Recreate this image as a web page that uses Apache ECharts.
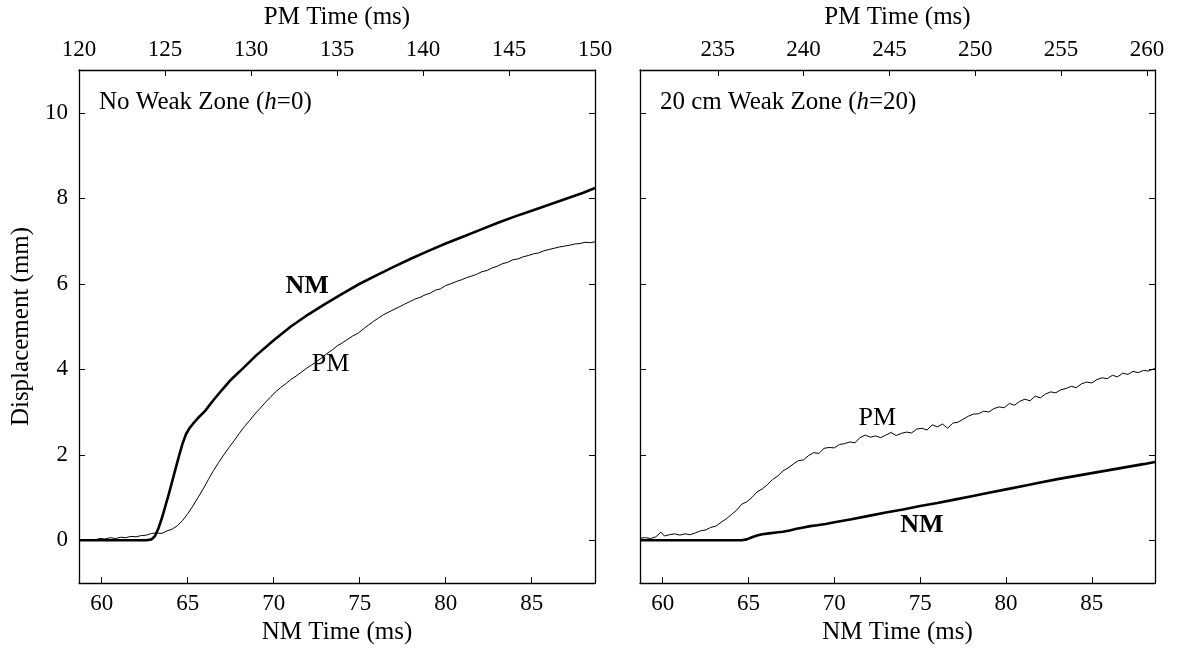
<!DOCTYPE html>
<html>
<head>
<meta charset="utf-8">
<script src="https://cdn.jsdelivr.net/npm/echarts@6/dist/echarts.min.js"></script>
<style>
  html, body { margin: 0; padding: 0; background: #fff; }
  #chart { width: 1177px; height: 651px; }
</style>
</head>
<body>
<div id="chart"></div>
<script>
// NM time window shown on both panels (ms)
const nmRange = [58.68, 88.68];
// PM time windows on the top axes (ms)
const pmRangeA = [120, 150];
const pmRangeB = [230.47, 260.47];
const nmTicks = [60, 65, 70, 75, 80, 85];
const pmTicksA = [120, 125, 130, 135, 140, 145, 150];
const pmTicksB = [235, 240, 245, 250, 255, 260];
const dispRange = [-1, 11];
const dispTicks = [0, 2, 4, 6, 8, 10];

// No weak zone (h = 0): [NM time (ms), displacement (mm)]
const nmNoWeak = [
  [58.68, 0], [60, 0], [61, 0], [62, 0], [62.6, 0], [62.9, 0.02], [63.1, 0.1], [63.3, 0.28],
  [63.5, 0.52], [63.7, 0.8], [63.9, 1.08], [64.1, 1.38], [64.3, 1.68], [64.5, 1.98], [64.7, 2.26],
  [64.9, 2.48], [65.1, 2.62], [65.3, 2.72], [65.6, 2.86], [66.0, 3.02], [66.5, 3.28], [67.0, 3.52],
  [67.5, 3.75], [68.0, 3.94], [69, 4.33], [70, 4.68], [71, 5.0], [72, 5.28], [73, 5.53], [74, 5.77],
  [75, 6.0], [76, 6.2], [77, 6.4], [78, 6.59], [79, 6.77], [80, 6.94], [81, 7.1], [82, 7.26],
  [83, 7.42], [84, 7.57], [85, 7.71], [86, 7.85], [87, 7.99], [88, 8.13], [88.68, 8.24]
];
const pmNoWeak = [
  [58.7, 0.02], [59.0, 0.0], [59.3, 0.02], [59.6, 0.01], [59.9, 0.04], [60.2, 0.03], [60.5, 0.06],
  [60.8, 0.04], [61.1, 0.07], [61.4, 0.06], [61.7, 0.09], [62.0, 0.08], [62.3, 0.11], [62.6, 0.12],
  [62.9, 0.16], [63.2, 0.17], [63.5, 0.16], [63.8, 0.22], [64.1, 0.26], [64.4, 0.34], [64.7, 0.46],
  [65.0, 0.62], [65.3, 0.8], [65.6, 1.0], [65.9, 1.2], [66.2, 1.42], [66.5, 1.63], [66.8, 1.82],
  [67.1, 2.0], [67.4, 2.17], [67.7, 2.33], [68.0, 2.5], [68.3, 2.66], [68.6, 2.8], [68.9, 2.95],
  [69.2, 3.08], [69.5, 3.22], [69.8, 3.34], [70.1, 3.47], [70.4, 3.57], [70.7, 3.66], [71.0, 3.76],
  [71.3, 3.84], [71.6, 3.93], [71.9, 4.02], [72.2, 4.1], [72.5, 4.18], [72.8, 4.27], [73.1, 4.37],
  [73.4, 4.45], [73.7, 4.55], [74.0, 4.62], [74.3, 4.7], [74.6, 4.78], [74.9, 4.84], [75.2, 4.94],
  [75.5, 5.03], [75.8, 5.12], [76.1, 5.2], [76.4, 5.28], [76.7, 5.34], [77.0, 5.4], [77.3, 5.46],
  [77.6, 5.52], [77.9, 5.58], [78.2, 5.64], [78.5, 5.68], [78.8, 5.74], [79.1, 5.78], [79.4, 5.85],
  [79.7, 5.88], [80.0, 5.96], [80.3, 6.0], [80.6, 6.05], [80.9, 6.09], [81.2, 6.14], [81.5, 6.18],
  [81.8, 6.22], [82.1, 6.28], [82.4, 6.31], [82.7, 6.37], [83.0, 6.41], [83.3, 6.47], [83.6, 6.5],
  [83.9, 6.56], [84.2, 6.58], [84.5, 6.63], [84.8, 6.66], [85.1, 6.7], [85.4, 6.72], [85.7, 6.77],
  [86.0, 6.8], [86.3, 6.83], [86.6, 6.86], [86.9, 6.88], [87.2, 6.9], [87.5, 6.93], [87.8, 6.94],
  [88.1, 6.97], [88.4, 6.96], [88.68, 6.98]
];

// 20 cm weak zone (h = 20)
const nmWeak = [
  [58.68, 0], [64.6, 0], [64.9, 0.02], [65.2, 0.07], [65.5, 0.11], [65.8, 0.14], [66.2, 0.16],
  [66.6, 0.18], [67.0, 0.2], [67.4, 0.23], [67.8, 0.27], [68.2, 0.3], [68.6, 0.33], [69.0, 0.35],
  [69.5, 0.38], [70.0, 0.42], [71, 0.49], [72, 0.57], [73, 0.65], [74, 0.72], [75, 0.8], [76, 0.87],
  [77, 0.95], [78, 1.03], [79, 1.11], [80, 1.19], [81, 1.27], [82, 1.35], [83, 1.43], [84, 1.5],
  [85, 1.57], [86, 1.64], [87, 1.71], [88, 1.78], [88.68, 1.83]
];
const pmWeak = [
  [58.7, 0.05], [59.0, 0.06], [59.3, 0.04], [59.6, 0.08], [59.9, 0.19], [60.1, 0.1], [60.4, 0.13],
  [60.7, 0.15], [61.0, 0.12], [61.3, 0.15], [61.6, 0.13], [61.9, 0.17], [62.2, 0.22], [62.5, 0.24],
  [62.8, 0.3], [63.1, 0.33], [63.4, 0.42], [63.7, 0.5], [64.0, 0.6], [64.3, 0.7], [64.6, 0.84],
  [64.9, 0.9], [65.2, 1.0], [65.5, 1.13], [65.8, 1.2], [66.1, 1.3], [66.4, 1.42], [66.7, 1.5],
  [67.0, 1.62], [67.3, 1.69], [67.6, 1.78], [67.9, 1.86], [68.2, 1.88], [68.5, 1.98], [68.8, 2.05],
  [69.1, 2.03], [69.4, 2.15], [69.7, 2.17], [70.0, 2.16], [70.3, 2.24], [70.6, 2.26], [70.9, 2.3],
  [71.2, 2.28], [71.5, 2.4], [71.8, 2.46], [72.1, 2.41], [72.4, 2.44], [72.7, 2.4], [73.0, 2.46],
  [73.3, 2.52], [73.6, 2.45], [73.9, 2.5], [74.2, 2.53], [74.5, 2.51], [74.8, 2.6], [75.1, 2.62],
  [75.4, 2.58], [75.7, 2.7], [76.0, 2.65], [76.3, 2.72], [76.6, 2.62], [76.9, 2.74], [77.2, 2.76],
  [77.5, 2.83], [77.8, 2.9], [78.1, 2.95], [78.4, 2.96], [78.7, 3.02], [79.0, 3.0], [79.3, 3.08],
  [79.6, 3.12], [79.9, 3.1], [80.2, 3.2], [80.5, 3.16], [80.8, 3.25], [81.1, 3.3], [81.4, 3.26],
  [81.7, 3.37], [82.0, 3.33], [82.3, 3.42], [82.6, 3.47], [82.9, 3.45], [83.2, 3.52], [83.5, 3.55],
  [83.8, 3.6], [84.1, 3.57], [84.4, 3.66], [84.7, 3.7], [85.0, 3.68], [85.3, 3.76], [85.6, 3.8],
  [85.9, 3.78], [86.2, 3.86], [86.5, 3.82], [86.8, 3.91], [87.1, 3.88], [87.4, 3.95], [87.7, 3.92],
  [88.0, 3.97], [88.3, 3.96], [88.68, 4.02]
];

// Curve annotations placed in data coordinates: [NM time, displacement]
const curveTags = [
  { grid: 0, text: 'NM', bold: true, at: [71.95, 5.94] },
  { grid: 0, text: 'PM', bold: false, at: [73.3, 4.12] },
  { grid: 1, text: 'PM', bold: false, at: [72.5, 2.85] },
  { grid: 1, text: 'NM', bold: true, at: [75.1, 0.36] }
];

const FONT = '"Liberation Serif", "DejaVu Serif", serif';
const INK = '#000';
const axisLine = { show: true, onZero: false, lineStyle: { color: INK, width: 1.3 } };
const tickStyle = { inside: true, length: 6, lineStyle: { color: INK, width: 1 } };
const labelFont = { color: INK, fontFamily: FONT, fontSize: 23 };
const nameFont = { color: INK, fontFamily: FONT, fontSize: 25 };

function xAxisDef(grid, pos, range, ticks, name, gap) {
  return {
    type: 'value', gridIndex: grid, position: pos, min: range[0], max: range[1],
    name: name, nameLocation: 'middle', nameGap: gap, nameTextStyle: nameFont,
    axisLine: axisLine,
    axisTick: Object.assign({ customValues: ticks }, tickStyle),
    axisLabel: Object.assign({ customValues: ticks, margin: 9 }, labelFont),
    splitLine: { show: false }
  };
}
function yAxisDef(grid, pos, withLabels, name) {
  return {
    type: 'value', gridIndex: grid, position: pos, min: dispRange[0], max: dispRange[1],
    name: name || '', nameLocation: 'middle', nameGap: 45, nameTextStyle: nameFont,
    axisLine: axisLine,
    axisTick: Object.assign({ customValues: dispTicks }, tickStyle),
    axisLabel: Object.assign({ show: withLabels, customValues: dispTicks, margin: 11 }, labelFont),
    splitLine: { show: false }
  };
}

function curve(name, data, xi, yi, width) {
  return {
    name: name, type: 'line', data: data, xAxisIndex: xi, yAxisIndex: yi,
    showSymbol: false, symbol: 'none', smooth: false, silent: true, animation: false,
    lineStyle: { color: INK, width: width }, z: width > 2 ? 3 : 2
  };
}

function caption(left, lead, tail) {
  return {
    left: left, top: 90, padding: 0,
    text: '{n|' + lead + '}{i|h}{n|' + tail + '}',
    textStyle: {
      fontWeight: 'normal',
      rich: {
        n: { fontFamily: FONT, fontSize: 25, color: INK, fontWeight: 'normal' },
        i: { fontFamily: FONT, fontSize: 25, color: INK, fontWeight: 'normal', fontStyle: 'italic' }
      }
    }
  };
}

const chart = echarts.init(document.getElementById('chart'), null, { renderer: 'canvas' });
chart.setOption({
  backgroundColor: '#fff',
  animation: false,
  title: [
    caption(99, 'No Weak Zone (', '=0)'),
    caption(660, '20 cm Weak Zone (', '=20)')
  ],
  grid: [
    { left: 79, top: 68, width: 516, height: 515 },
    { left: 640, top: 68, width: 515, height: 515 }
  ],
  xAxis: [
    xAxisDef(0, 'bottom', nmRange, nmTicks, 'NM Time (ms)', 37),
    xAxisDef(0, 'top', pmRangeA, pmTicksA, 'PM Time (ms)', 40),
    xAxisDef(1, 'bottom', nmRange, nmTicks, 'NM Time (ms)', 37),
    xAxisDef(1, 'top', pmRangeB, pmTicksB, 'PM Time (ms)', 40)
  ],
  yAxis: [
    yAxisDef(0, 'left', true, 'Displacement (mm)'),
    yAxisDef(0, 'right', false),
    yAxisDef(1, 'left', false),
    yAxisDef(1, 'right', false)
  ],
  series: [
    curve('PM', pmNoWeak, 0, 0, 1),
    curve('NM', nmNoWeak, 0, 0, 2.6),
    curve('PM', pmWeak, 2, 2, 1),
    curve('NM', nmWeak, 2, 2, 2.6)
  ]
});

// Curve names, positioned through each panel's own axes
chart.setOption({
  graphic: curveTags.map(function (t) {
    const p = chart.convertToPixel({ xAxisIndex: t.grid * 2, yAxisIndex: t.grid * 2 }, t.at);
    return {
      type: 'text', x: p[0], y: p[1], silent: true, z: 10,
      style: {
        text: t.text, fill: INK, font: (t.bold ? 'bold ' : '') + '26px ' + FONT,
        align: 'center', verticalAlign: 'middle'
      }
    };
  })
});
</script>
</body>
</html>
